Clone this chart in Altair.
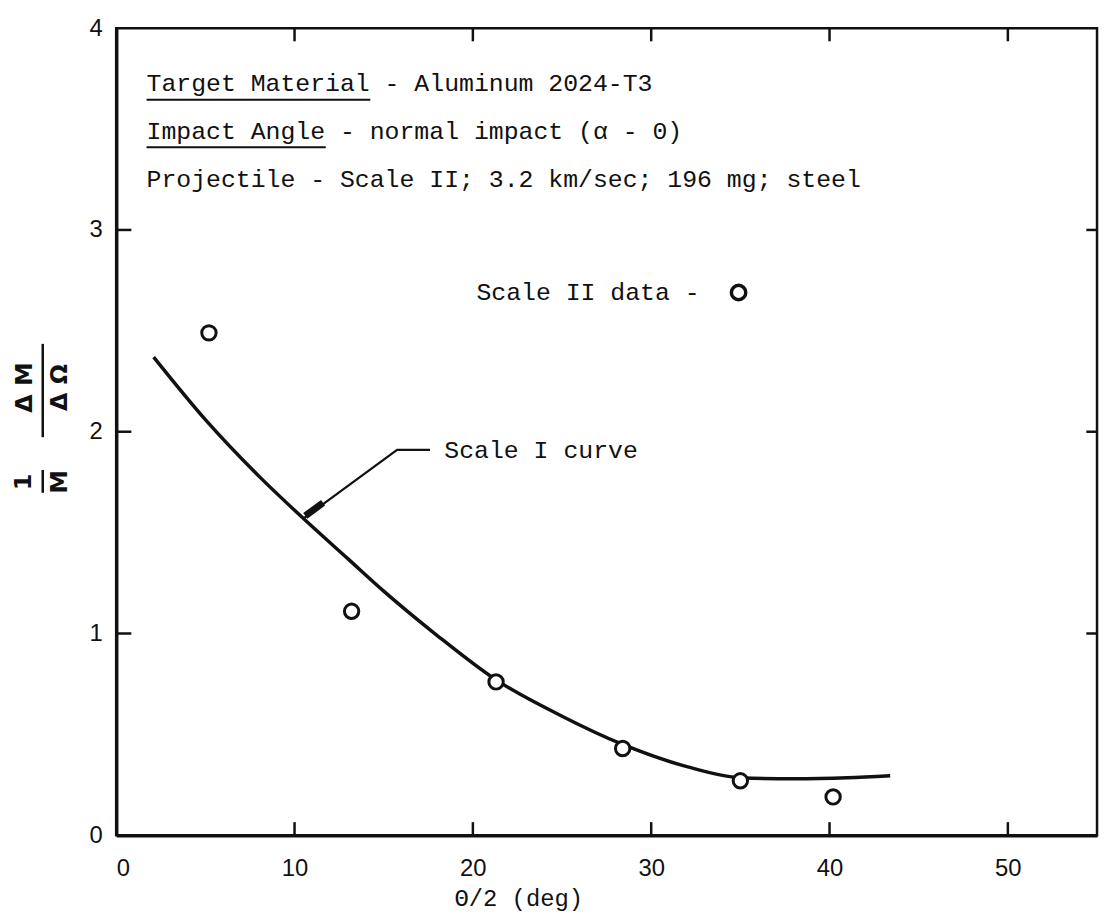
import altair as alt
import pandas as pd

# ---------------- data ----------------
# Scale II data (open circles)
data_x = [5.2, 13.2, 21.3, 28.4, 35.0, 40.2]
data_y = [2.49, 1.11, 0.76, 0.43, 0.27, 0.19]

# Scale I curve
curve_x = [2.1, 5.0, 8.0, 10.5, 13.0, 15.0, 18.0, 21.3, 25.0, 28.4, 32.0, 35.0, 38.0, 41.0, 43.4]
curve_y = [2.37, 2.06, 1.78, 1.57, 1.37, 1.21, 0.99, 0.77, 0.59, 0.45, 0.34, 0.285, 0.28, 0.285, 0.295]

# axes
x_labels = [0, 10, 20, 30, 40, 50]
y_labels = [0, 1, 2, 3, 4]
x_inner_ticks = [10, 20, 30, 40, 50]
y_inner_ticks = [1, 2, 3]
X_DOMAIN = [0, 55]
Y_DOMAIN = [0, 4]

# annotation text block
info_text = [
    "Target Material - Aluminum 2024-T3",
    "Impact Angle - normal impact (\u03b1 - 0)",
    "Projectile - Scale II; 3.2 km/sec; 196 mg; steel",
]
info_x = [1.7, 1.7, 1.7]
info_y = [3.73, 3.49, 3.25]
underline_x = [1.7, 1.7]
underline_x2 = [14.25, 11.75]
underline_y = [3.645, 3.41]

# "Scale I curve" label with leader arrow
curve_label = ["Scale I curve"]
curve_label_x = [18.4]
curve_label_y = [1.91]
leader_x = [17.6, 15.75, 10.5]
leader_y = [1.91, 1.91, 1.57]
arrowhead_x = [10.6, 11.6]
arrowhead_y = [1.583, 1.648]

# "Scale II data - o" key
key_label = ["Scale II data -"]
key_label_x = [20.2]
key_label_y = [2.69]
key_circle_x = [34.9]
key_circle_y = [2.69]

# ---------------- styling ----------------
MONO = "Liberation Mono"
SANS = "Liberation Sans"
INK = "#111111"

W, H = 988, 813

x_axis = alt.Axis(values=x_labels, ticks=False, grid=False, domainColor=INK, domainWidth=3.5,
                  labelFont=SANS, labelFontSize=24, labelColor=INK, labelPadding=22,
                  titleFont=MONO, titleFontSize=24, titleFontWeight="normal", titleColor=INK,
                  titleX=405, titleY=64, titleAlign="center", titleBaseline="middle")
y_axis = alt.Axis(values=y_labels, ticks=False, grid=False, domainColor=INK, domainWidth=3.5,
                  labelFont=SANS, labelFontSize=24, labelColor=INK, labelPadding=14,
                  title=None)


def X(field):
    return alt.X(f"{field}:Q", scale=alt.Scale(domain=X_DOMAIN, nice=False, zero=False),
                 axis=x_axis, title="\u0398/2 (deg)")


def Y(field):
    return alt.Y(f"{field}:Q", scale=alt.Scale(domain=Y_DOMAIN, nice=False, zero=False),
                 axis=y_axis, title=None)


curve_df = pd.DataFrame({"x": curve_x, "y": curve_y})
pts_df = pd.DataFrame({"x": data_x, "y": data_y})

curve = alt.Chart(curve_df).mark_line(color=INK, strokeWidth=3.5, interpolate="monotone").encode(
    x=X("x"), y=Y("y"))

points = alt.Chart(pts_df).mark_point(shape="circle", filled=True, fill="white", stroke=INK,
                                      strokeWidth=3, size=210, opacity=1).encode(x=X("x"), y=Y("y"))

# inner ticks
bx = pd.DataFrame({"x": x_inner_ticks, "y": [0.0] * 5, "y2": [0.065] * 5})
tx = pd.DataFrame({"x": x_inner_ticks, "y": [4.0] * 5, "y2": [3.935] * 5})
ly = pd.DataFrame({"y": y_inner_ticks, "x": [0.0] * 3, "x2": [0.85] * 3})
ry = pd.DataFrame({"y": y_inner_ticks, "x": [55.0] * 3, "x2": [54.4] * 3})
tick_b = alt.Chart(bx).mark_rule(color=INK, strokeWidth=2.5).encode(x=X("x"), y=Y("y"), y2="y2:Q")
tick_t = alt.Chart(tx).mark_rule(color=INK, strokeWidth=2.5).encode(x=X("x"), y=Y("y"), y2="y2:Q")
tick_l = alt.Chart(ly).mark_rule(color=INK, strokeWidth=2.5).encode(x=X("x"), x2="x2:Q", y=Y("y"))
tick_r = alt.Chart(ry).mark_rule(color=INK, strokeWidth=2.5).encode(x=X("x"), x2="x2:Q", y=Y("y"))

# text block
info_df = pd.DataFrame({"t": info_text, "x": info_x, "y": info_y})
info = alt.Chart(info_df).mark_text(font=MONO, fontSize=25, align="left", baseline="middle",
                                    color=INK).encode(x=X("x"), y=Y("y"), text="t:N")
ul_df = pd.DataFrame({"x": underline_x, "x2": underline_x2, "y": underline_y})
underline = alt.Chart(ul_df).mark_rule(color=INK, strokeWidth=2).encode(x=X("x"), x2="x2:Q", y=Y("y"))

# Scale I curve label + leader arrow
cl_df = pd.DataFrame({"t": curve_label, "x": curve_label_x, "y": curve_label_y})
clabel = alt.Chart(cl_df).mark_text(font=MONO, fontSize=25, align="left", baseline="middle",
                                    color=INK).encode(x=X("x"), y=Y("y"), text="t:N")
lead_df = pd.DataFrame({"x": leader_x, "y": leader_y, "o": list(range(len(leader_x)))})
leader = alt.Chart(lead_df).mark_line(color=INK, strokeWidth=2.2).encode(
    x=X("x"), y=Y("y"), order="o:Q")
ah_df = pd.DataFrame({"x": arrowhead_x, "y": arrowhead_y, "o": [0, 1]})
arrowhead = alt.Chart(ah_df).mark_line(color=INK, strokeWidth=7, strokeCap="butt").encode(
    x=X("x"), y=Y("y"), order="o:Q")

# Scale II key
kl_df = pd.DataFrame({"t": key_label, "x": key_label_x, "y": key_label_y})
klabel = alt.Chart(kl_df).mark_text(font=MONO, fontSize=25, align="left", baseline="middle",
                                    color=INK).encode(x=X("x"), y=Y("y"), text="t:N")
kc_df = pd.DataFrame({"x": key_circle_x, "y": key_circle_y})
kcircle = alt.Chart(kc_df).mark_point(shape="circle", filled=True, fill="white", stroke=INK,
                                      strokeWidth=3.5, size=210, opacity=1).encode(x=X("x"), y=Y("y"))

# y-axis title: (1/M)(dM/dOmega) as rotated stacked fractions
one = alt.Data(values=[{"a": 1}])
ytitle_parts = []
for txt, px, py in [("\u0394 M", -92, 362), ("\u0394 \u03a9", -57, 362), ("1", -93, 457), ("M", -57, 457)]:
    ytitle_parts.append(
        alt.Chart(one).mark_text(text=txt, font="DejaVu Sans", fontWeight="bold", fontSize=24,
                                 angle=270, align="center", baseline="middle", color=INK)
        .encode(x=alt.value(px), y=alt.value(py)))
for y1, y2 in [(318, 412), (445, 468)]:
    ytitle_parts.append(
        alt.Chart(one).mark_rule(color=INK, strokeWidth=2.5)
        .encode(x=alt.value(-74), y=alt.value(y1), y2=alt.value(y2)))

chart = alt.layer(
    curve, points, tick_b, tick_t, tick_l, tick_r, info, underline, leader, arrowhead, clabel,
    klabel, kcircle, *ytitle_parts
).properties(
    width=W, height=H,
    autosize=alt.AutoSizeParams(type="none"),
    padding={"left": 109, "top": 17, "right": 4, "bottom": 80},
    background="white",
).configure_view(stroke=INK, strokeWidth=2.5)

chart.save("out.html", embed_options={"renderer": "svg", "actions": False})
